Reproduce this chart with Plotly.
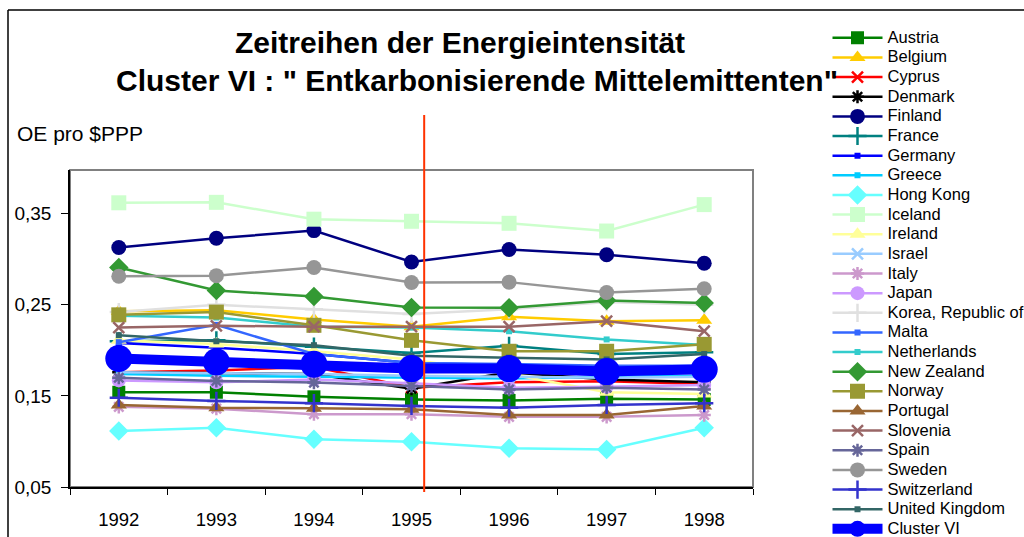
import plotly.graph_objects as go

years = ["1992", "1993", "1994", "1995", "1996", "1997", "1998"]

austria = [0.154, 0.154, 0.149, 0.146, 0.145, 0.147, 0.146]
belgium = [0.243, 0.244, 0.234, 0.226, 0.237, 0.232, 0.233]
cyprus = [0.176, 0.178, 0.182, 0.159, 0.165, 0.166, 0.163]
denmark = [0.176, 0.175, 0.174, 0.158, 0.176, 0.168, 0.165]
finland = [0.313, 0.323, 0.3315, 0.297, 0.3107, 0.305, 0.2957]
france = [0.210, 0.211, 0.204, 0.197, 0.205, 0.196, 0.198]
germany = [0.208, 0.203, 0.196, 0.186, 0.184, 0.181, 0.179]
greece = [0.174, 0.172, 0.171, 0.170, 0.169, 0.171, 0.172]
hong_kong = [0.1115, 0.115, 0.1023, 0.0998, 0.0925, 0.0913, 0.115]
iceland = [0.362, 0.3625, 0.344, 0.3417, 0.3395, 0.331, 0.360]
ireland = [0.211, 0.207, 0.199, 0.190, 0.174, 0.154, 0.152]
israel = [0.176, 0.175, 0.174, 0.172, 0.171, 0.170, 0.171]
italy = [0.138, 0.136, 0.130, 0.130, 0.127, 0.127, 0.129]
japan = [0.167, 0.165, 0.168, 0.164, 0.159, 0.160, 0.162]
korea = [0.242, 0.250, 0.245, 0.240, 0.245, 0.253, 0.250]
malta = [0.209, 0.228, 0.196, 0.186, 0.185, 0.183, 0.183]
netherlands = [0.238, 0.236, 0.226, 0.225, 0.221, 0.212, 0.206]
new_zealand = [0.291, 0.2658, 0.259, 0.247, 0.2468, 0.2548, 0.252]
norway = [0.239, 0.242, 0.2275, 0.211, 0.199, 0.199, 0.2066]
portugal = [0.140, 0.137, 0.1365, 0.1354, 0.129, 0.129, 0.139]
slovenia = [0.225, 0.227, 0.226, 0.226, 0.226, 0.232, 0.221]
spain = [0.170, 0.1665, 0.1646, 0.161, 0.157, 0.159, 0.157]
sweden = [0.2814, 0.282, 0.291, 0.2745, 0.2749, 0.2636, 0.2676]
switzerland = [0.148, 0.1445, 0.142, 0.139, 0.137, 0.140, 0.142]
united_kingdom = [0.2167, 0.210, 0.2057, 0.194, 0.192, 0.190, 0.196]
cluster_vi = [0.191, 0.1874, 0.1848, 0.180, 0.180, 0.1767, 0.1793]

y_ticks = [0.05, 0.15, 0.25, 0.35]
y_tick_labels = ["0,05", "0,15", "0,25", "0,35"]

# name, values, color, symbol, marker size
series = [
    ("Austria", austria, "#008000", "square", 13),
    ("Belgium", belgium, "#FFCC00", "triangle-up", 14),
    ("Cyprus", cyprus, "#FF0000", "x-thin-open", 11),
    ("Denmark", denmark, "#000000", "asterisk-open", 11),
    ("Finland", finland, "#000080", "circle", 15),
    ("France", france, "#008080", "cross-thin-open", 13),
    ("Germany", germany, "#0000FF", "square", 6),
    ("Greece", greece, "#00CCFF", "square", 6),
    ("Hong Kong", hong_kong, "#66FFFF", "diamond", 15),
    ("Iceland", iceland, "#CCFFCC", "square", 15),
    ("Ireland", ireland, "#FFFF99", "triangle-up", 14),
    ("Israel", israel, "#99CCFF", "x-thin-open", 11),
    ("Italy", italy, "#CC99CC", "asterisk-open", 11),
    ("Japan", japan, "#CC99FF", "circle", 14),
    ("Korea, Republic of", korea, "#E0E0E0", "cross-thin-open", 13),
    ("Malta", malta, "#3366FF", "square", 6),
    ("Netherlands", netherlands, "#33CCCC", "square", 6),
    ("New Zealand", new_zealand, "#339933", "diamond", 15),
    ("Norway", norway, "#999933", "square", 15),
    ("Portugal", portugal, "#996633", "triangle-up", 14),
    ("Slovenia", slovenia, "#996666", "x-thin-open", 11),
    ("Spain", spain, "#666699", "asterisk-open", 11),
    ("Sweden", sweden, "#969696", "circle", 15),
    ("Switzerland", switzerland, "#3333CC", "cross-thin-open", 13),
    ("United Kingdom", united_kingdom, "#336666", "square", 6),
]

LEG_SPAN = '<span style="font-size:16.5px">{}</span>'

fig = go.Figure()
for name, vals, color, sym, size in series:
    is_open = sym.endswith("-open")
    fig.add_trace(go.Scatter(
        x=years, y=vals, name=LEG_SPAN.format(name), mode="lines+markers",
        line=dict(color=color, width=2.5),
        marker=dict(symbol=sym, size=size, color=color,
                    line=dict(color=color, width=2.5 if is_open else 0)),
    ))

fig.add_trace(go.Scatter(
    x=years, y=cluster_vi, name=LEG_SPAN.format("Cluster VI"), mode="lines+markers",
    line=dict(color="#0000FF", width=10),
    marker=dict(symbol="circle", size=27, color="#0000FF"),
))

font_main = "Arial, 'Liberation Sans', sans-serif"
W, H = 1024, 537

fig.update_layout(
    width=W, height=H,
    margin=dict(l=70, r=271, t=170, b=50, autoexpand=False),
    paper_bgcolor="white", plot_bgcolor="white",
    separators=", ",
    font=dict(family=font_main, color="#000000", size=16),
    showlegend=True,
    legend=dict(
        xref="container", yref="container",
        x=827.5 / W, y=1 - 23 / H, xanchor="left", yanchor="top",
        font=dict(family=font_main, size=12.8, color="#000000"),
        itemwidth=50, tracegroupgap=0, bgcolor="rgba(0,0,0,0)",
        traceorder="normal", maxheight=600,
    ),
    xaxis=dict(
        type="category", tickson="boundaries", ticks="outside", ticklen=6,
        tickcolor="#000000", tickwidth=1, showline=True, linecolor="#000000",
        linewidth=1.5, showgrid=False, zeroline=False, automargin=False,
        tickfont=dict(size=18.5), ticklabelstandoff=15, range=[-0.5, 6.5],
    ),
    yaxis=dict(
        range=[0.05, 0.398], tickvals=y_ticks, ticktext=y_tick_labels,
        ticks="outside", ticklen=7, tickcolor="#000000", showline=True,
        linecolor="#000000", linewidth=1.5, showgrid=False, zeroline=False,
        automargin=False, tickfont=dict(size=19), ticklabelstandoff=6,
    ),
    annotations=[
        dict(text="<b>Zeitreihen der Energieintensität</b>", xref="paper", yref="paper",
             x=(460 - 70) / 683, y=(487 - 42) / 317, xanchor="center", yanchor="middle",
             showarrow=False, font=dict(size=30)),
        dict(text="<b>Cluster VI : \" Entkarbonisierende Mittelemittenten\"</b>", xref="paper",
             yref="paper", x=(477 - 70) / 683, y=(487 - 80) / 317, xanchor="center",
             yanchor="middle", showarrow=False, font=dict(size=30)),
        dict(text="OE pro $PPP", xref="paper", yref="paper", x=(15 - 70) / 683,
             y=(487 - 133) / 317, xanchor="left", yanchor="middle", showarrow=False,
             font=dict(size=21)),
    ],
    shapes=[
        dict(type="rect", xref="paper", yref="paper", x0=0, x1=1, y0=0, y1=1,
             line=dict(color="#808080", width=2), layer="below"),
        dict(type="line", xref="paper", yref="paper", x0=(8 - 70) / 683, x1=1.5,
             y0=(487 - 10) / 317, y1=(487 - 10) / 317, line=dict(color="#000000", width=1.5)),
        dict(type="line", xref="paper", yref="paper", x0=(8 - 70) / 683, x1=(8 - 70) / 683,
             y0=(487 - 10) / 317, y1=-0.3, line=dict(color="#000000", width=1.5)),
        dict(type="line", xref="x", yref="paper", x0=3.13, x1=3.13,
             y0=(487 - 492) / 317, y1=(487 - 115) / 317, line=dict(color="#FF3300", width=2)),
    ],
)

fig.write_html(
    "out.html",
    config={"displayModeBar": False},
    post_script="document.body.style.margin='0';document.body.style.overflow='hidden';",
)
